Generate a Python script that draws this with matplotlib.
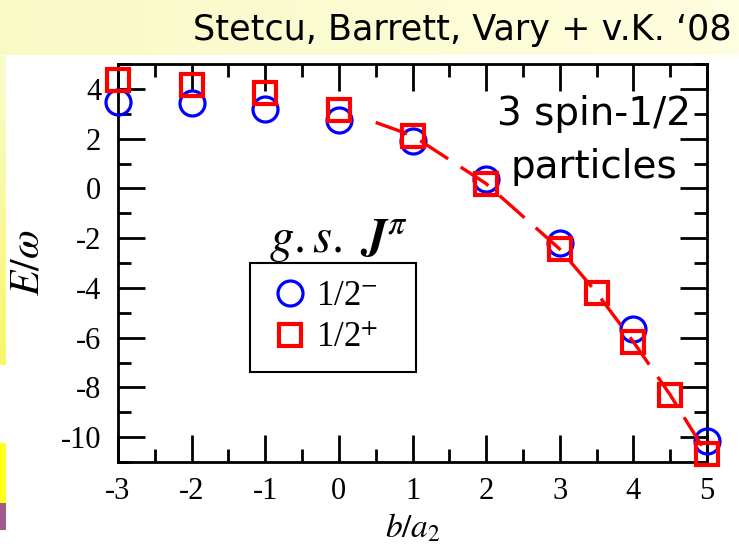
import numpy as np
import matplotlib
matplotlib.use('Agg')
import matplotlib.pyplot as plt
from matplotlib.patches import Rectangle
from matplotlib.ticker import MultipleLocator

plt.rcParams['font.family'] = 'Liberation Serif'
plt.rcParams['mathtext.fontset'] = 'stix'
plt.rcParams['axes.unicode_minus'] = False

# ground state energies vs b/a2
b_minus = [-3, -2, -1, 0, 1, 2, 3, 4, 5]
E_minus = [3.49, 3.42, 3.18, 2.75, 1.90, 0.36, -2.20, -5.67, -10.15]

b_plus = [-3, -2, -1, 0, 1, 2, 3, 3.5, 4, 4.5, 5]
E_plus = [4.34, 4.16, 3.85, 3.15, 2.12, 0.19, -2.44, -4.19, -6.17, -8.30, -10.69]

# dashed curve through the 1/2+ points
b_curve = [0.5, 1, 2, 3, 3.5, 4, 4.5, 5]
E_curve = [2.65, 2.12, 0.19, -2.44, -4.19, -6.17, -8.30, -10.69]

labels = ['1/2$^{-}$   ', '1/2$^{+}$   ']
title = 'Stetcu, Barrett, Vary + v.K. \u201808'
note = ['3 spin-1/2', 'particles']

W, H = 739, 547
fig = plt.figure(figsize=(W / 100, H / 100), dpi=100)

# slide background: pale yellow band on top, coloured strip on the left
bg = fig.add_axes([0, 0, 1, 1], zorder=-1)
bg.axis('off')
top_grad = np.linspace(0, 1, 256)[None, :, None]
c0 = np.array([249, 249, 198]) / 255
c1 = np.array([254, 254, 224]) / 255
bg.imshow(c0 + (c1 - c0) * top_grad, extent=(0, W, 55, 0), aspect='auto')
side_grad = np.linspace(0, 1, 256)[:, None, None]
s0 = np.array([251, 251, 208]) / 255
s1 = np.array([247, 247, 105]) / 255
bg.imshow(s0 + (s1 - s0) * side_grad, extent=(0, 6, 365, 55), aspect='auto')
bg.add_patch(Rectangle((0, 443), 6, 60, color='#FFFF1A', lw=0))
bg.add_patch(Rectangle((0, 503), 6, 27, color='#A05A8C', lw=0))
bg.set_xlim(0, W)
bg.set_ylim(H, 0)

fig.text(732 / W, 1 - 40 / H, title, ha='right', va='baseline',
         fontsize=25.2, family='DejaVu Sans')

ax = fig.add_axes([118 / W, 1 - 462 / H, 589 / W, 398 / H])
ax.set_facecolor('white')

l_minus, = ax.plot(b_minus, E_minus, 'o', ms=18, mfc='none', mec='#0000FF',
                   mew=2.3, clip_on=False, zorder=3)
l_plus, = ax.plot(b_plus, E_plus, 's', ms=16.5, mfc='none', mec='#FF0000',
                  mew=3.0, clip_on=False, zorder=4)
ax.plot(b_curve, E_curve, color='#FF0000', lw=2.4, dashes=(10, 4.5),
        zorder=5, clip_on=False)

ax.set_xlim(-3, 5)
ax.set_ylim(-11, 5)
ax.xaxis.set_major_locator(MultipleLocator(1))
ax.xaxis.set_minor_locator(MultipleLocator(0.5))
ax.yaxis.set_minor_locator(MultipleLocator(1))
ax.set_yticks([4, 2, 0, -2, -4, -6, -8, -10])
ax.tick_params(which='both', direction='in', top=True, right=True,
               width=2.0, labelsize=22)
ax.tick_params(which='major', length=19.5)
ax.tick_params(which='minor', length=9.5)
ax.tick_params(axis='x', pad=11)
ax.tick_params(axis='y', pad=12)
for sp in ax.spines.values():
    sp.set_linewidth(2.0)

ax.set_xlabel('$b/a_2$', fontsize=24, va='top')
ax.xaxis.set_label_coords(0.5, -0.125)
ax.set_ylabel('$E/\\omega$', fontsize=30, va='center')
ax.yaxis.set_label_coords(-0.153, 0.5)

leg = ax.legend([l_minus, l_plus], labels, loc='upper left',
                bbox_to_anchor=(0.224, 0.5), borderaxespad=0, numpoints=1,
                fancybox=False, edgecolor='black', framealpha=1,
                prop={'family': 'Liberation Serif', 'size': 25},
                handlelength=1.3, handletextpad=0.1, borderpad=0.5,
                labelspacing=0.25)
leg.get_frame().set_linewidth(1.5)

ax.text(0.3735, 0.528, '$g.s.\\ \\mathbfit{J}^{\\pi}$', transform=ax.transAxes,
        ha='center', va='baseline', fontsize=35)
ax.text(0.808, 0.847, note[0], transform=ax.transAxes, ha='center',
        va='baseline', fontsize=28, family='DejaVu Sans')
ax.text(0.808, 0.7136, note[1], transform=ax.transAxes, ha='center',
        va='baseline', fontsize=28, family='DejaVu Sans')

fig.savefig('out.png', dpi=100)
